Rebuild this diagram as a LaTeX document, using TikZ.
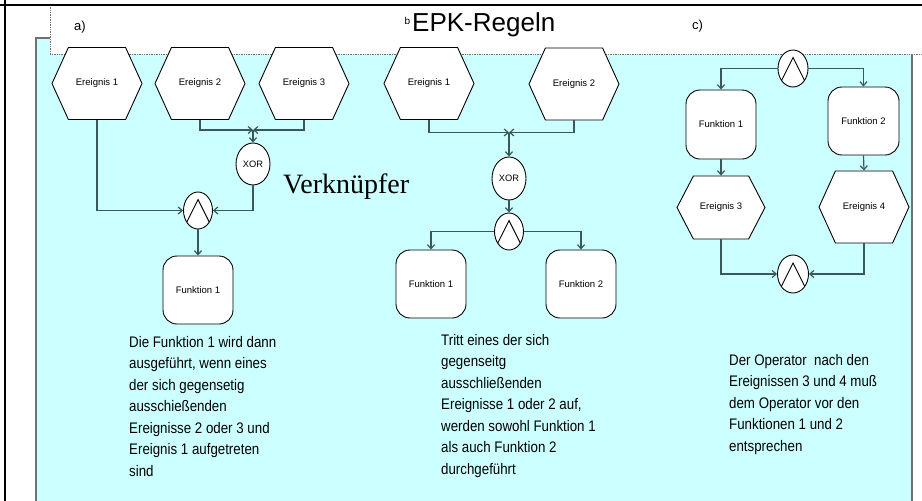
\documentclass[tikz,border=0pt]{standalone}
\usepackage{fontspec}
\setmainfont{Liberation Sans}
\newfontfamily\serifface{Liberation Serif}
\usetikzlibrary{shapes.geometric,shapes.symbols,arrows.meta}

\definecolor{panelcyan}{HTML}{CCFFFF}
\definecolor{framegray}{HTML}{707070}
\definecolor{conncol}{HTML}{3C5757}

\tikzset{
  event/.style={shape=signal, signal to=west and east, signal pointer angle=131,
    draw, fill=white, line width=0.9, inner sep=0, minimum width=90, minimum height=72,
    font=\fontsize{9.5}{11}\selectfont},
  func/.style={rectangle, rounded corners=14, draw, fill=white, line width=0.9,
    inner sep=0, minimum width=70, minimum height=68, font=\fontsize{9.5}{11}\selectfont},
  xorop/.style={ellipse, draw, fill=white, line width=0.9, inner sep=0,
    minimum width=34, minimum height=42, font=\fontsize{9.3}{11}\selectfont},
  andop/.style={ellipse, draw, fill=white, line width=0.9, inner sep=0,
    minimum width=29, minimum height=37,
    path picture={\draw[line width=0.9]
      ([xshift=-12pt,yshift=-13pt]path picture bounding box.center) --
      ([yshift=11pt]path picture bounding box.center) --
      ([xshift=12pt,yshift=-13pt]path picture bounding box.center);}},
  conn/.style={draw=conncol, line width=1.2},
  arr/.style={conn, -{Straight Barb[length=4,width=7]}},
  note/.style={inner sep=0, anchor=north west, font=\fontsize{13.3}{18.7}\selectfont},
}

\begin{document}
\begin{tikzpicture}[x=1pt, y=-1pt]
  \useasboundingbox (0,0) rectangle (922,501);

  % cyan panel and white title strip
  \filldraw[fill=panelcyan, draw=framegray, line width=1.4] (36,38) rectangle (912,506);
  \fill[white] (50,5) rectangle (922,54);
  \draw[framegray, line width=0.7, densely dotted] (50,5) -- (50,54) -- (922,54);

  % page rules
  \draw[line width=2] (0,4.8) -- (922,4.8);
  \draw[line width=2] (4.8,0) -- (4.8,501);

  % headings
  \node[anchor=base west, inner sep=0, font=\fontsize{10}{11}\selectfont] (bmark) at (404.5,24) {b};
  \node[anchor=base west, inner sep=0, font=\fontsize{26}{30}\selectfont] (title) at (412,31) {EPK-Regeln};
  \node[anchor=base west, inner sep=0, font=\fontsize{13}{14}\selectfont] (labela) at (74,30.5) {a)};
  \node[anchor=base west, inner sep=0, font=\fontsize{13}{14}\selectfont] (labelc) at (692,29) {c)};
  \node[anchor=base west, inner sep=0, font=\serifface\fontsize{28}{30}\selectfont] (verk) at (283,193) {Verkn\"upfer};

  % ---- a) ----
  \node[event] (ea1) at (97,83.5) {Ereignis 1};
  \node[event] (ea2) at (200,83.5) {Ereignis 2};
  \node[event] (ea3) at (304,83.5) {Ereignis 3};
  \coordinate (ja) at (253,130);
  \node[xorop] (xora) at (253,164) {XOR};
  \node[andop] (anda) at (198,210.5) {};
  \node[func] (fa) at (198,290) {Funktion 1};
  \draw[arr] (ea2.south) |- (ja);
  \draw[arr] (ea3.south) |- (ja);
  \draw[arr] (ja) -- (xora.north);
  \draw[arr] (ea1.south) |- (anda.west);
  \draw[arr] (xora.south) |- (anda.east);
  \draw[arr] (anda.south) -- (fa.north);

  % ---- b) ----
  \node[event] (eb1) at (429,83.5) {Ereignis 1};
  \node[event] (eb2) at (574,84) {Ereignis 2};
  \coordinate (jb) at (509,132.5);
  \node[xorop, minimum height=43] (xorb) at (509,178.5) {XOR};
  \node[andop] (andb) at (509,231.5) {};
  \node[func] (fb1) at (431,284) {Funktion 1};
  \node[func] (fb2) at (581,284) {Funktion 2};
  \draw[arr] (eb1.south) |- (jb);
  \draw[arr] (eb2.south) |- (jb);
  \draw[arr] (jb) -- (xorb.north);
  \draw[arr] (xorb.south) -- (andb.north);
  \draw[arr] (andb.west) -| (fb1.north);
  \draw[arr] (andb.east) -| (fb2.north);

  % ---- c) ----
  \node[andop, minimum width=30] (andc1) at (793,68.5) {};
  \node[func, minimum height=69] (fc1) at (721,124.5) {Funktion 1};
  \node[func, minimum width=71] (fc2) at (863.5,121) {Funktion 2};
  \node[event, minimum width=88, minimum height=63, signal pointer angle=125] (ec3) at (721,207.5) {Ereignis 3};
  \node[event] (ec4) at (864,207) {Ereignis 4};
  \node[andop, minimum width=31, minimum height=38] (andc2) at (793,274) {};
  \draw[arr] (andc1.west) -| (fc1.north);
  \draw[arr] (andc1.east) -| (fc2.north);
  \draw[arr] (fc1.south) -- (ec3.north);
  \draw[arr] (fc2.south) -- (ec4.north);
  \draw[arr] (ec3.south) |- (andc2.west);
  \draw[arr] (ec4.south) |- (andc2.east);

  % explanations
  \node[note] (ta) at (129,332) {\scalebox{1}[1.15]{\begin{tabular}{@{}l@{}}
    Die Funktion 1 wird dann\\ ausgef\"uhrt, wenn eines\\ der sich gegensetig\\
    ausschie\ss enden\\ Ereignisse 2 oder 3 und\\ Ereignis 1 aufgetreten\\ sind\end{tabular}}};
  \node[note] (tb) at (441,330) {\scalebox{1}[1.15]{\begin{tabular}{@{}l@{}}
    Tritt eines der sich\\ gegenseitg\\ ausschlie\ss enden\\ Ereignisse 1 oder 2 auf,\\
    werden sowohl Funktion 1\\ als auch Funktion 2\\ durchgef\"uhrt\end{tabular}}};
  \node[note] (tc) at (729,350) {\scalebox{1}[1.15]{\begin{tabular}{@{}l@{}}
    Der Operator\ \ nach den\\ Ereignissen 3 und 4 mu\ss\\ dem Operator vor den\\
    Funktionen 1 und 2\\ entsprechen\end{tabular}}};
\end{tikzpicture}
\end{document}
